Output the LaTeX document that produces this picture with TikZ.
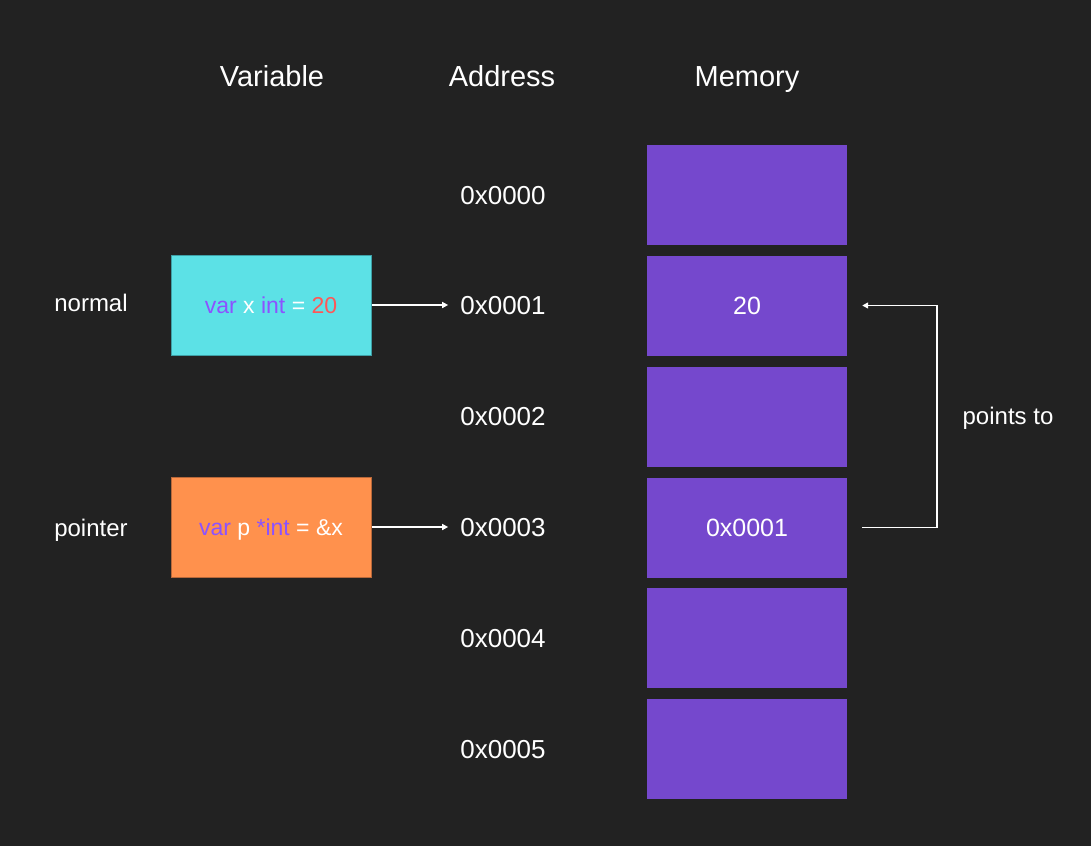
\documentclass[tikz,border=0pt]{standalone}
\usepackage{fontspec}
\setmainfont{Liberation Sans}
\usetikzlibrary{arrows.meta}
\definecolor{bg}{HTML}{222222}
\definecolor{memc}{HTML}{7548CD}
\definecolor{cyanc}{HTML}{5CE1E6}
\definecolor{cyanb}{HTML}{3E9FA6}
\definecolor{orc}{HTML}{FF914D}
\definecolor{orb}{HTML}{B8683A}
\definecolor{kw}{HTML}{8C52FF}
\definecolor{num}{HTML}{FF5757}
\tikzset{
  hdr/.style={text=white, font=\fontsize{29}{34}\selectfont, inner sep=0, text height=21pt, text depth=0pt},
  addr/.style={text=white, font=\fontsize{26}{30}\selectfont, inner xsep=12pt, inner ysep=0, text height=18.7pt, text depth=0pt},
  lbl/.style={text=white, font=\fontsize{24}{28}\selectfont, inner sep=0, text height=17.3pt, text depth=0pt},
  mem/.style={fill=memc, draw=none, minimum width=200pt, minimum height=100pt, inner sep=0, text=white, font=\fontsize{25}{30}\selectfont, text height=18pt, text depth=0pt},
  varbox/.style={minimum width=200pt, minimum height=100pt, inner sep=0, line width=1pt, font=\fontsize{23}{28}\selectfont, text height=16.5pt, text depth=0pt},
  arr/.style={draw=white, line width=1.5pt, -{Triangle[length=6pt,width=6pt]}}
}
\begin{document}
\begin{tikzpicture}[x=1pt,y=-1pt]
\useasboundingbox[fill=bg] (0,0) rectangle (1091,846);
% headers
\node[hdr] (hv) at (272,76) {Variable};
\node[hdr] (ha) at (502,76) {Address};
\node[hdr] (hm) at (747,76) {Memory};
% addresses
\node[addr] (a0) at (503,195) {0x0000};
\node[addr] (a1) at (503,305) {0x0001};
\node[addr] (a2) at (503,416) {0x0002};
\node[addr] (a3) at (503,527) {0x0003};
\node[addr] (a4) at (503,638) {0x0004};
\node[addr] (a5) at (503,749) {0x0005};
% memory
\node[mem] (m0) at (747,195) {};
\node[mem] (m1) at (747,305.5) {20};
\node[mem] (m2) at (747,416.5) {};
\node[mem] (m3) at (747,527.5) {0x0001};
\node[mem] (m4) at (747,638) {};
\node[mem] (m5) at (747,749) {};
% variables
\node[lbl] (ln) at (91,303) {normal};
\node[lbl] (lp) at (91,528) {pointer};
\node[varbox, fill=cyanc, draw=cyanb] (vx) at (271,305) {\textcolor{kw}{var} \textcolor{white}{x} \textcolor{kw}{int} \textcolor{white}{=} \textcolor{num}{20}};
\node[varbox, fill=orc, draw=orb] (vp) at (271,527) {\textcolor{kw}{var} \textcolor{white}{p} \textcolor{kw}{*int} \textcolor{white}{= \&x}};
% arrows
\draw[arr] (vx.east) -- (a1.west);
\draw[arr] (vp.east) -- (a3.west);
\draw[arr, shorten <=15pt, shorten >=15pt] (m3.east) -- ++(90,0) |- (m1.east);
\node[lbl] (pt) at (1008,416) {points to};
\end{tikzpicture}
\end{document}
